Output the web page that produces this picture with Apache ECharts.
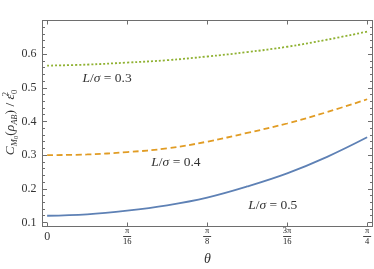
<!DOCTYPE html>
<html><head><meta charset="utf-8">
<script src="https://cdn.jsdelivr.net/npm/echarts@6/dist/echarts.min.js"></script>
<style>html,body{margin:0;padding:0;background:#fff}#c{width:374px;height:269px}</style>
</head><body><div id="c"></div>
<script>
// θ in units of π/16
const theta = [0, 0.5, 1, 1.5, 2, 2.5, 3, 3.5, 4];
const seriesNames = ['L/σ = 0.3', 'L/σ = 0.4', 'L/σ = 0.5'];
const green03 = [0.566, 0.569, 0.575, 0.582, 0.593, 0.606, 0.622, 0.643, 0.667];
const orange04 = [0.300, 0.302, 0.309, 0.320, 0.340, 0.366, 0.394, 0.428, 0.466];
const blue05 = [0.120, 0.124, 0.135, 0.151, 0.174, 0.207, 0.246, 0.295, 0.353];
const xTickValues = [0, 1, 2, 3, 4];
const xTickLabels = ['0', '{n|π}\n{b| }\n{d|16}', '{n|π}\n{b| }\n{d|8}', '{n|3π}\n{b| }\n{d|16}', '{n|π}\n{b| }\n{d|4}'];
const yMajor = [0.1, 0.2, 0.3, 0.4, 0.5, 0.6];
const yMinor = [0.12, 0.14, 0.16, 0.18, 0.22, 0.24, 0.26, 0.28, 0.32, 0.34, 0.36, 0.38, 0.42, 0.44, 0.46, 0.48, 0.52, 0.54, 0.56, 0.58, 0.62, 0.64, 0.66, 0.68];
// annotation anchors [θ, value]
const labelAt = [[0.75, 0.527], [1.61, 0.277], [2.82, 0.152]];

const serif = '"Liberation Serif", "DejaVu Serif", serif';
const frameColor = '#6e6e6e';
const colors = ['#8fb131', '#e19c24', '#5e81b5'];
const dataSets = [green03, orange04, blue05];
const lineTypes = [[2, 2], [6, 3.5], 'solid'];

const chart = echarts.init(document.getElementById('c'), null, {renderer: 'canvas'});
const X_MIN = -0.058, X_MAX = 4.067, Y_MIN = 0.088, Y_MAX = 0.70;

function yAxisDef(pos, withLabels, ticks, len, showLine, name) {
  const a = {
    type: 'value', position: pos, min: Y_MIN, max: Y_MAX, gridIndex: 0,
    axisLine: {show: showLine, onZero: false, lineStyle: {color: frameColor, width: 1}},
    axisTick: {show: true, inside: true, length: len, customValues: ticks, lineStyle: {color: frameColor, width: 1}},
    axisLabel: withLabels ? {show: true, customValues: yMajor, margin: 6, color: '#333', fontFamily: serif, fontSize: 12,
      formatter: v => v.toFixed(1)} : {show: false},
    splitLine: {show: false}
  };
  if (name) {
    a.name = name;
    a.nameLocation = 'middle';
    a.nameGap = 23;
    a.nameMoveOverlap = false;
    a.nameRotate = 90;
    a.nameTextStyle = {
      color: '#333', fontFamily: serif, padding: [0, 0, 0, 2],
      rich: {
        m: {fontFamily: serif, fontStyle: 'italic', fontSize: 13.5, lineHeight: 18, color: '#333'},
        r: {fontFamily: serif, fontSize: 13.5, lineHeight: 18, color: '#333'},
        s: {fontFamily: serif, fontStyle: 'italic', fontSize: 8.5, verticalAlign: 'bottom', color: '#333'},
        ss: {fontFamily: serif, fontSize: 6.5, verticalAlign: 'bottom', color: '#333'},
        sup: {fontFamily: serif, fontSize: 8.5, verticalAlign: 'top', color: '#333', width: 0},
        sb: {fontFamily: serif, fontSize: 8.5, verticalAlign: 'bottom', color: '#333'}
      }
    };
  }
  return a;
}

function xAxisDef(pos, withLabels, name) {
  const a = {
    type: 'value', position: pos, min: X_MIN, max: X_MAX, gridIndex: 0,
    axisLine: {show: true, onZero: false, lineStyle: {color: frameColor, width: 1}},
    axisTick: {show: true, inside: true, length: 4, customValues: xTickValues, lineStyle: {color: frameColor, width: 1}},
    axisLabel: withLabels ? {
      show: true, customValues: xTickValues, margin: 10, verticalAlign: 'middle', color: '#333',
      fontFamily: serif, fontSize: 12,
      formatter: v => xTickLabels[xTickValues.indexOf(Math.round(v))],
      rich: {
        n: {fontFamily: serif, fontSize: 8.5, lineHeight: 8, color: '#222', align: 'center'},
        b: {fontSize: 1, width: 8, height: 1, lineHeight: 3, backgroundColor: '#444', align: 'center'},
        d: {fontFamily: serif, fontSize: 8.5, lineHeight: 8, color: '#222', align: 'center'}
      }
    } : {show: false},
    splitLine: {show: false}
  };
  if (name) {
    a.name = name;
    a.nameLocation = 'middle';
    a.nameGap = 26;
    a.nameMoveOverlap = false;
    a.nameTextStyle = {color: '#333', fontFamily: serif, fontStyle: 'italic', fontSize: 14};
  }
  return a;
}

const yName = '{m|C}{s|M}{ss|0}{r|(}{m|ρ}{s|AB}{r|) / }{m|ε}{sup|2}{sb|0}';

const series = dataSets.map((vals, i) => ({
  name: seriesNames[i],
  type: 'line', xAxisIndex: 0, yAxisIndex: 0,
  data: theta.map((t, k) => [t, vals[k]]),
  smooth: 0.4, showSymbol: false, symbol: 'none',
  lineStyle: {color: colors[i], width: 1.8, type: lineTypes[i], cap: 'butt'},
  itemStyle: {color: colors[i]},
  silent: true,
  markPoint: {
    symbol: 'circle', symbolSize: 1, itemStyle: {color: 'rgba(0,0,0,0)'},
    label: {
      show: true, position: 'inside', color: '#333',
      formatter: () => '{i|L}{r|/}{i|σ}{r| = ' + seriesNames[i].split('= ')[1] + '}',
      rich: {
        i: {fontFamily: serif, fontStyle: 'italic', fontSize: 13.5, color: '#333'},
        r: {fontFamily: serif, fontSize: 13.5, color: '#333'}
      }
    },
    data: [{coord: labelAt[i]}]
  }
}));

chart.setOption({
  animation: false,
  backgroundColor: '#fff',
  grid: {left: 42.5, right: 1.5, top: 20.5, bottom: 42.5, containLabel: false, outerBoundsMode: 'none'},
  xAxis: [xAxisDef('bottom', true, 'θ'), xAxisDef('top', false)],
  yAxis: [
    yAxisDef('left', true, yMajor, 4.5, true, yName),
    yAxisDef('left', false, yMinor, 2.5, false),
    yAxisDef('right', false, yMajor, 4.5, true),
    yAxisDef('right', false, yMinor, 2.5, false)
  ],
  series: series
});
</script>
</body></html>
